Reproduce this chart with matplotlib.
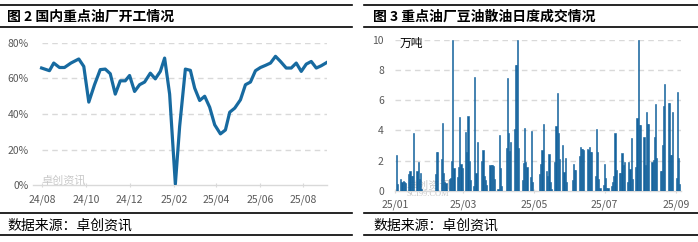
import numpy as np
import pandas as pd
import matplotlib
matplotlib.use('Agg')
import matplotlib.pyplot as plt
import matplotlib.dates as mdates
from matplotlib.lines import Line2D

plt.rcParams['font.family'] = ['Noto Sans CJK SC', 'DejaVu Sans']

# 图2 国内重点油厂开工情况 (%), dates
run_dates = pd.to_datetime([
    '2024-07-31', '2024-08-11', '2024-08-17', '2024-08-25', '2024-09-01',
    '2024-09-10', '2024-09-21', '2024-09-28', '2024-10-05', '2024-10-13',
    '2024-10-21', '2024-10-28', '2024-11-04', '2024-11-11', '2024-11-18',
    '2024-11-25', '2024-12-01', '2024-12-08', '2024-12-15', '2024-12-22',
    '2024-12-30', '2025-01-06', '2025-01-13', '2025-01-19', '2025-01-26',
    '2025-02-03', '2025-02-09', '2025-02-17', '2025-02-24', '2025-03-02',
    '2025-03-09', '2025-03-16', '2025-03-23', '2025-03-30', '2025-04-07',
    '2025-04-14', '2025-04-20', '2025-04-27', '2025-05-05', '2025-05-12',
    '2025-05-19', '2025-05-26', '2025-06-02', '2025-06-09', '2025-06-16',
    '2025-06-23', '2025-06-30', '2025-07-08', '2025-07-15', '2025-07-22',
    '2025-07-29', '2025-08-05', '2025-08-12', '2025-08-19', '2025-08-26',
    '2025-09-03'])
run_rate = [65.9, 64.4, 68.7, 66.2, 66.2, 68.7, 71.0, 66.8, 46.7, 56.5,
            65.0, 65.3, 62.7, 51.2, 58.7, 58.7, 61.7, 52.7, 56.5, 58.0,
            63.0, 59.8, 64.0, 71.5, 51.2, 0.5, 33.0, 65.3, 64.6, 54.6,
            47.6, 50.0, 43.8, 33.9, 28.8, 31.0, 41.0, 43.3, 48.0, 56.5,
            58.0, 64.4, 66.2, 67.4, 68.7, 72.5, 69.6, 65.9, 65.9, 68.7,
            64.0, 68.1, 69.6, 65.9, 67.2, 69.1]
left_ticks = pd.date_range('2024-08-01', '2025-08-01', freq='2MS')

# 图3 重点油厂豆油散油日度成交情况 (business days from 2025-01-01, 万吨)
deal_vol = [0, 2.35, 0.45,
            0.75, 0.55, 0.65, 0.6, 0.5,
            1.1, 1.3, 1.0, 1.0, 3.8,
            1.3, 1.9, 0.75, 1.2, 0.1,
            0, 0, 0, 0, 0,
            0, 0, 1.1, 2.6, 2.55,
            2.1, 4.5, 1.2, 0.55, 0.5,
            0.8, 0.85, 2.0, 10, 1.5,
            0.9, 1.6, 4.9, 1.8, 1.5,
            3.9, 2.6, 4.95, 2.0, 0.7,
            0.3, 7.55, 1.15, 3.25, 0,
            2.0, 2.7, 1.0, 0.7, 0.4,
            1.7, 1.7, 1.7, 1.65, 0.8,
            0.1, 3.7, 1.5, 0.3, 0,
            2.85, 7.5, 3.85, 2.65, 3.25,
            4.1, 8.35, 8.35, 10, 2.85,
            0.7, 1.85, 4.15, 1.9, 1.55,
            0.9, 3.95, 0.55, 0, 0,
            0, 1.1, 1.75, 2.7, 4.4,
            1.3, 1.0, 2.45, 0.6, 0.1,
            1.9, 4.3, 6.5, 3.8, 2.1,
            3.0, 1.25, 2.2, 0.6, 0,
            0, 0.7, 1.8, 1.4, 1.4,
            2.3, 2.9, 2.75, 2.75, 2.7,
            2.8, 2.7, 2.9, 2.6, 2.6,
            1.0, 4.1, 2.6, 0.75, 0.2,
            0.35, 1.8, 0.85, 0.2, 0.2,
            0.3, 0.6, 1.0, 3.8, 1.35,
            1.2, 1.2, 2.5, 1.7, 1.9,
            0.6, 1.9, 1.45, 3.5, 0.8,
            1.6, 4.8, 10, 4.35, 4.35,
            3.55, 1.7, 5.25, 4.4, 4.4,
            1.9, 2.05, 3.55, 5.75, 2.15,
            1.3, 1.3, 3.05, 5.6, 7.05,
            5.85, 5.85, 2.4, 2.4, 5.25,
            0.85, 6.55, 2.15, 0.45]
deal_dates = pd.bdate_range('2025-01-01', periods=len(deal_vol))
right_ticks = pd.date_range('2025-01-01', '2025-09-01', freq='2MS')

W, H = 698, 242
BLUE = '#176aa0'
BAR = '#15639d'
GRID = '#d9d9d9'
TICK = '#595959'

fig = plt.figure(figsize=(W / 100, H / 100), dpi=100)


def box(x0, y0, x1, y1):
    # pixel box (from top-left) -> figure fraction rect
    return [x0 / W, 1 - y1 / H, (x1 - x0) / W, (y1 - y0) / H]


def frame(x0, x1, tx, title):
    for y in (5, 27, 213, 235):
        fig.add_artist(Line2D([x0 / W, x1 / W], [1 - y / H] * 2, color='black', lw=1.2))
    fig.text(tx / W, 1 - 17 / H, title, fontsize=10, fontweight='bold', va='center', ha='left')
    fig.text(tx / W, 1 - 226 / H, '数据来源：卓创资讯', fontsize=10, va='center', ha='left')


def style(ax):
    for s in ('top', 'right', 'left'):
        ax.spines[s].set_visible(False)
    ax.spines['bottom'].set_color(GRID)
    ax.spines['bottom'].set_linewidth(1)
    ax.tick_params(axis='y', length=0, labelsize=7.5, labelcolor=TICK, pad=3)
    ax.tick_params(axis='x', length=3, color=GRID, direction='inout', labelsize=7.5, labelcolor=TICK, pad=5)
    ax.xaxis.set_major_formatter(mdates.DateFormatter('%y/%m'))
    ax.set_facecolor('none')


# ---- left panel ----
frame(0, 352, 7, '图 2 国内重点油厂开工情况')
ax1 = fig.add_axes(box(33, 43, 327, 185))
yt = [0, 20, 40, 60, 80]
ax1.hlines(yt[1:], run_dates[0], run_dates[-1], colors=GRID, linestyles=(0, (4, 3)), lw=1, zorder=0)
ax1.plot(run_dates, run_rate, color=BLUE, lw=2.3, solid_joinstyle='round', zorder=3)
ax1.set_ylim(0, 80)
ax1.set_xlim(pd.Timestamp('2024-07-19'), run_dates[-1])
ax1.set_yticks(yt)
ax1.set_yticklabels([f'{v}%' for v in yt])
ax1.set_xticks(left_ticks)
style(ax1)
ax1.text(0.03, 0.01, '卓创资讯', transform=ax1.transAxes, fontsize=8, color='#c8c8c8', zorder=1)

# ---- right panel ----
frame(364, 698, 373, '图 3 重点油厂豆油散油日度成交情况')
ax2 = fig.add_axes(box(395, 40, 681, 190.7))
ax2.bar(deal_dates, deal_vol, width=1.0, color=BAR, edgecolor=BAR, linewidth=0.4, zorder=3)
ax2.set_ylim(0, 10)
ax2.set_xlim(pd.Timestamp('2025-01-01'), pd.Timestamp('2025-09-05'))
ax2.set_yticks([0, 2, 4, 6, 8, 10])
ax2.grid(axis='y', color=GRID, linestyle=(0, (4, 3)), lw=1, zorder=0)
ax2.set_xticks(right_ticks)
style(ax2)
ax2.tick_params(axis='y', pad=8)
ax2.text(0.015, 0.98, '万吨', transform=ax2.transAxes, fontsize=8.5, va='center', ha='left')
ax2.text(0.04, 0.01, '卓创资讯', transform=ax2.transAxes, fontsize=8, color='#c8c8c8', zorder=1)
ax2.text(0.04, -0.035, 'SCI99.COM', transform=ax2.transAxes, fontsize=6, color='#c8c8c8',
         family='Liberation Serif', zorder=1)

fig.savefig('out.png', dpi=100)
